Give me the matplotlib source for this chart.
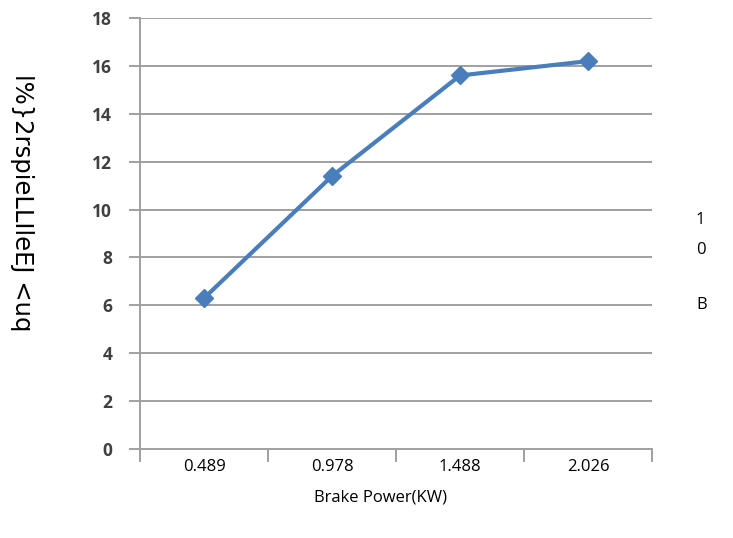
import numpy as np
from matplotlib import pyplot as plt

# Brake power categories and efficiency values
power_labels=['0.489','0.978','1.488','2.026']
efficiency=[6.3,11.4,15.6,16.2]
y_ticks=[0,2,4,6,8,10,12,14,16,18]

fig=plt.figure(figsize=(7.33,5.38),dpi=100)
ax=fig.add_axes([0.191,0.1654,0.6985,0.8011])

x=np.arange(len(power_labels))
ax.plot(x,efficiency,color='#4a7ebb',lw=3,marker='D',ms=9,
        mfc='#4a7ebb',mec='#4a7ebb',zorder=3)

ax.set_xlim(-0.5,len(power_labels)-0.5)
ax.set_ylim(0,18)
ax.set_yticks(y_ticks)
ax.set_yticklabels([str(t) for t in y_ticks],fontsize=12.5,fontweight='bold',
                   color='#404040',family='Open Sans')
for t in y_ticks:
    ax.axhline(t,color='#a0a0a0',lw=1.4,zorder=1)

# category labels centred, tick marks between categories
ax.set_xticks(x)
ax.set_xticklabels(power_labels,fontsize=12,family='Open Sans')
ax.set_xticks(np.arange(-0.5,len(power_labels)),minor=True)
ax.tick_params(axis='x',which='major',length=0,pad=7)
ax.tick_params(axis='x',which='minor',length=9,color='#a0a0a0',width=1.4)
ax.tick_params(axis='y',length=8,color='#a0a0a0',width=1.4,pad=12)

for s in ['top','right']:
    ax.spines[s].set_visible(False)
for s in ['left','bottom']:
    ax.spines[s].set_color('#a0a0a0')
    ax.spines[s].set_linewidth(1.4)

fig.text(380/733,1-497/538,'Brake Power(KW)',ha='center',va='center',
         fontsize=12,family='Open Sans')
fig.text(22/733,1-203/538,'l%}2rspieLLIleEJ <uq',rotation=-90,ha='center',
         va='center',fontsize=17.5,family='DejaVu Sans')
for txt,yy in [('1',220),('0',250),('B',305)]:
    fig.text(696/733,1-yy/538,txt,ha='left',va='center',fontsize=12,family='Open Sans')

fig.savefig('out.png',dpi=100)
